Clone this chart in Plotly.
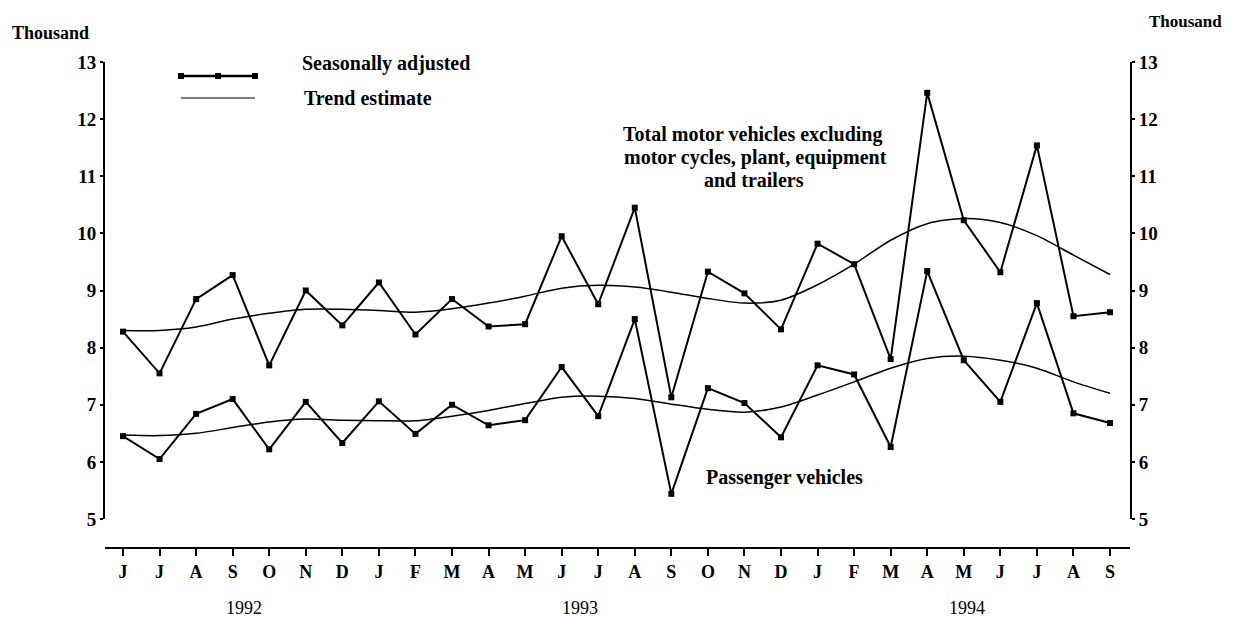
import plotly.graph_objects as go

months = ["J", "J", "A", "S", "O", "N", "D",
          "J", "F", "M", "A", "M", "J", "J", "A", "S", "O", "N", "D",
          "J", "F", "M", "A", "M", "J", "J", "A", "S"]
years = ["1992", "1993", "1994"]
year_centres = [3.3, 12.5, 23.1]

total_sa = [8.28, 7.55, 8.85, 9.27, 7.69, 9.0, 8.39, 9.14, 8.23, 8.85, 8.37, 8.41,
            9.95, 8.76, 10.45, 7.13, 9.33, 8.95, 8.32, 9.82, 9.46, 7.80, 12.46, 10.23,
            9.32, 11.54, 8.55, 8.62]
total_trend = [8.3, 8.3, 8.36, 8.5, 8.6, 8.67, 8.67, 8.65, 8.62, 8.68, 8.78, 8.9,
               9.04, 9.09, 9.06, 8.97, 8.86, 8.78, 8.83, 9.1, 9.46, 9.88, 10.17, 10.26,
               10.19, 9.96, 9.62, 9.28]
pass_sa = [6.45, 6.05, 6.84, 7.1, 6.22, 7.05, 6.33, 7.06, 6.49, 7.0, 6.64, 6.73,
           7.66, 6.8, 8.5, 5.44, 7.29, 7.03, 6.43, 7.69, 7.53, 6.26, 9.34, 7.78,
           7.05, 8.78, 6.85, 6.68]
pass_trend = [6.47, 6.46, 6.5, 6.6, 6.7, 6.75, 6.73, 6.72, 6.72, 6.8, 6.9, 7.02,
              7.13, 7.15, 7.11, 7.01, 6.92, 6.87, 6.96, 7.17, 7.4, 7.64, 7.81, 7.85,
              7.78, 7.64, 7.4, 7.2]

x = list(range(len(months)))
FONT = "Liberation Serif"
INK = "#000000"

# page offset (browser body margin)
OFF = 8
W, H = 1233 - OFF, 619 - OFF
PL, PR, PT, PB = 105 - OFF, 1130 - OFF, 62 - OFF, 548 - OFF
Y5 = 519 - OFF  # pixel row of value 5

def px(xp, yp):
    """reference pixel -> paper coordinates"""
    return (xp - OFF - PL) / (PR - PL), (PB - (yp - OFF)) / (PB - PT)

fig = go.Figure()
for tr in (total_trend, pass_trend):
    fig.add_trace(go.Scatter(x=x, y=tr, mode="lines",
                             line=dict(color=INK, width=1.5, shape="spline", smoothing=0.8),
                             showlegend=False, hoverinfo="skip"))
for sa in (total_sa, pass_sa):
    fig.add_trace(go.Scatter(x=x, y=sa, mode="lines+markers", line=dict(color=INK, width=2),
                             marker=dict(symbol="square", size=6, color=INK),
                             showlegend=False))
fig.add_trace(go.Scatter(x=x, y=total_sa, yaxis="y2", mode="lines", line=dict(width=0),
                         opacity=0, showlegend=False, hoverinfo="skip"))

tickfont = dict(family=FONT, size=19, color=INK, weight="bold")
ydom0 = (PB - Y5) / (PB - PT)
sp = 36.56
xr = [-(123 - 105) / sp, 27 + (1130 - 1110) / sp]
common_y = dict(range=[5, 13], domain=[ydom0, 1], tickvals=list(range(5, 14)),
                ticks="outside", ticklen=3, tickwidth=1.5, tickcolor=INK,
                showline=True, linecolor=INK, linewidth=2, showgrid=False, zeroline=False,
                tickfont=tickfont)
fig.update_layout(
    width=W, height=H,
    paper_bgcolor="white", plot_bgcolor="white",
    margin=dict(l=PL, r=W - PR, t=PT, b=H - PB),
    font=dict(family=FONT, color=INK),
    xaxis=dict(range=xr, tickmode="array", tickvals=x, ticktext=months,
               ticks="outside", ticklen=7, tickwidth=1.5, tickcolor=INK,
               showline=True, linecolor=INK, linewidth=2, showgrid=False, zeroline=False,
               anchor="free", position=0,
               tickfont=dict(family=FONT, size=18, color=INK, weight="bold")),
    yaxis=dict(**common_y),
    yaxis2=dict(**common_y, overlaying="y", side="right", anchor="x"),
)

def lab(xp, yp, text, size=20, xanchor="left", bold=True):
    ax, ay = px(xp, yp)
    return dict(x=ax, y=ay, xref="paper", yref="paper", xanchor=xanchor, yanchor="middle",
                text=text, showarrow=False,
                font=dict(family=FONT, size=size, color=INK, weight="bold" if bold else "normal"))

ann = []
for yr, c in zip(years, year_centres):
    ann.append(dict(x=c, y=px(0, 608)[1], xref="x", yref="paper", yanchor="middle", text=yr,
                    showarrow=False, font=dict(family=FONT, size=18, color=INK)))
ann += [
    lab(10, 33, "Thousand", size=18),
    lab(1147, 22, "Thousand", size=17, xanchor="left"),
    lab(300, 63, "Seasonally adjusted"),
    lab(302, 98, "Trend estimate"),
    lab(752, 134, "Total motor vehicles excluding", xanchor="center"),
    lab(755, 157, "motor cycles, plant, equipment", xanchor="center"),
    lab(754, 180, "and trailers", xanchor="center"),
    lab(784, 477, "Passenger vehicles", xanchor="center"),
]
fig.update_layout(annotations=ann)

shapes = []
x0, y0 = px(181, 76)
x1, _ = px(255, 76)
shapes.append(dict(type="line", xref="paper", yref="paper", x0=x0, x1=x1, y0=y0, y1=y0,
                   line=dict(color=INK, width=2.5)))
dx = 3 / (PR - PL)
dy = 3 / (PB - PT)
for mx in (181, 218, 255):
    cx, cy = px(mx, 76)
    shapes.append(dict(type="rect", xref="paper", yref="paper", x0=cx - dx, x1=cx + dx,
                       y0=cy - dy, y1=cy + dy, fillcolor=INK, line=dict(width=0)))
x0, y0 = px(181, 98)
x1, _ = px(255, 98)
shapes.append(dict(type="line", xref="paper", yref="paper", x0=x0, x1=x1, y0=y0, y1=y0,
                   line=dict(color=INK, width=1.2)))
fig.update_layout(shapes=shapes)

fig.write_html("out.html")
